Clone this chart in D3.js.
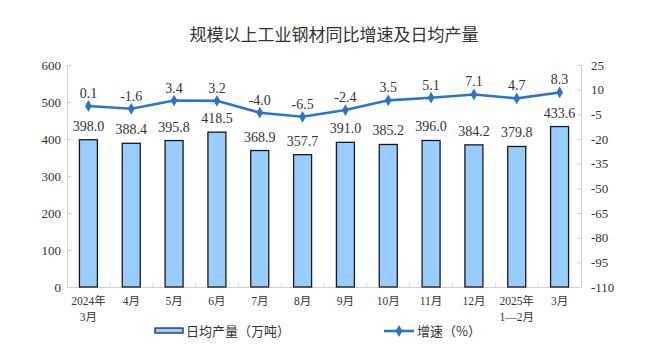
<!DOCTYPE html>
<html><head><meta charset="utf-8">
<script src="https://cdn.jsdelivr.net/npm/d3@7"></script>
<style>body{margin:0;background:#fff}</style>
</head><body>
<svg id="c" width="660" height="358"></svg>
<script>
const categories = [["2024年","3月"],["4月"],["5月"],["6月"],["7月"],["8月"],["9月"],["10月"],["11月"],["12月"],["2025年","1—2月"],["3月"]];
const output = [398.0,388.4,395.8,418.5,368.9,357.7,391.0,385.2,396.0,384.2,379.8,433.6];
const growth = [0.1,-1.6,3.4,3.2,-4.0,-6.5,-2.4,3.5,5.1,7.1,4.7,8.3];
const leftTicks = [0,100,200,300,400,500,600];
const rightTicks = [25,10,-5,-20,-35,-50,-65,-80,-95,-110];

const svg = d3.select("#c");
const serif = "'Times New Roman','Liberation Serif','Noto Serif CJK SC','Noto Sans CJK SC',serif";
const cjk = "'Liberation Serif','Noto Sans CJK SC',sans-serif";
const L = 67, R = 581, T = 65, B = 287;
const idx = categories.map((d,i)=>i);
const x = d3.scaleBand().domain(idx).range([L,R]).paddingInner(0.58).paddingOuter(0.29);
const xb = d3.scaleBand().domain(idx).range([L,R]);
const yL = d3.scaleLinear().domain([0,600]).range([B,T]);
const yR = d3.scaleLinear().domain([-110,25]).range([B,T]);

svg.append("text").attr("x",334).attr("y",41).attr("text-anchor","middle")
  .attr("font-family","'Noto Sans CJK SC',sans-serif").attr("font-size",17).attr("fill","#333")
  .text("规模以上工业钢材同比增速及日均产量");

// axes
const axL = svg.append("g").attr("transform",`translate(${L},0)`)
  .call(d3.axisLeft(yL).tickValues(leftTicks).tickSize(0).tickPadding(6).tickFormat(d=>String(d)));
const axR = svg.append("g").attr("transform",`translate(${R},0)`)
  .call(d3.axisRight(yR).tickValues(rightTicks).tickSize(0).tickPadding(10).tickFormat(d=>String(d)));
[axL,axR].forEach(a=>{
  a.select(".domain").attr("stroke","#d0d0d0");
  a.selectAll("text").attr("font-family",serif).attr("font-size",13).attr("fill","#333");
});
axR.selectAll("text").attr("text-anchor","start");
axL.selectAll(".tick").append("line").attr("x2",4).attr("stroke","#d0d0d0");
axR.selectAll(".tick").append("line").attr("x2",-4).attr("stroke","#d0d0d0");

// bottom axis
const axB = svg.append("g").attr("transform",`translate(0,${B})`)
  .call(d3.axisBottom(xb).tickSize(0).tickFormat(""));
axB.select(".domain").attr("stroke","#d0d0d0");
svg.append("g").selectAll("line").data(idx.slice(1)).join("line")
  .attr("x1",d=>xb(d)).attr("x2",d=>xb(d)).attr("y1",B).attr("y2",B-4).attr("stroke","#d8d8d8");

// x labels
const xl = svg.append("g").selectAll("text").data(categories).join("text")
  .attr("text-anchor","middle").attr("font-family",cjk).attr("font-size",11.5).attr("fill","#333");
xl.each(function(d,i){
  const t = d3.select(this);
  d.forEach((s,j)=>t.append("tspan").attr("x",xb(i)+xb.bandwidth()/2).attr("y",305+j*16).text(s));
});

// bars
svg.append("g").selectAll("rect").data(output).join("rect")
  .attr("x",(d,i)=>x(i)).attr("width",x.bandwidth())
  .attr("y",d=>yL(d)).attr("height",d=>B-yL(d))
  .attr("fill","#99ccff").attr("stroke","#1a1a1a").attr("stroke-width",1.3);
svg.append("g").selectAll("text").data(output).join("text")
  .attr("x",(d,i)=>x(i)+x.bandwidth()/2).attr("y",d=>yL(d)-9)
  .attr("text-anchor","middle").attr("font-family",serif).attr("font-size",14).attr("fill","#333")
  .text(d=>d.toFixed(1));

// line
const cx = i=>xb(i)+xb.bandwidth()/2;
svg.append("path").datum(growth)
  .attr("d",d3.line().x((d,i)=>cx(i)).y(d=>yR(d)))
  .attr("fill","none").attr("stroke","#2e74c4").attr("stroke-width",2.6);
const sym = d3.symbol().type(d3.symbolDiamond).size(40);
svg.append("g").selectAll("path").data(growth).join("path")
  .attr("transform",(d,i)=>`translate(${cx(i)},${yR(d)})`).attr("d",sym).attr("fill","#2e74c4");
svg.append("g").selectAll("text").data(growth).join("text")
  .attr("x",(d,i)=>cx(i)).attr("y",d=>yR(d)-8)
  .attr("text-anchor","middle").attr("font-family",serif).attr("font-size",14).attr("fill","#333")
  .text(d=>d.toFixed(1));

// legend
const lg = svg.append("g");
lg.append("rect").attr("x",155).attr("y",328).attr("width",28).attr("height",5)
  .attr("fill","#99ccff").attr("stroke","#1a1a1a").attr("stroke-width",1.2);
lg.append("text").attr("x",186).attr("y",335.5).attr("font-family","'Noto Sans CJK SC',sans-serif")
  .attr("font-size",13).attr("fill","#333").text("日均产量（万吨）");
lg.append("line").attr("x1",384).attr("x2",414).attr("y1",331).attr("y2",331)
  .attr("stroke","#2e74c4").attr("stroke-width",2.6);
lg.append("path").attr("transform","translate(399,331)").attr("d",sym).attr("fill","#2e74c4");
lg.append("text").attr("x",417).attr("y",335.5).attr("font-family","'Noto Sans CJK SC',sans-serif")
  .attr("font-size",13).attr("fill","#333").text("增速（%）");
</script>
</body></html>
